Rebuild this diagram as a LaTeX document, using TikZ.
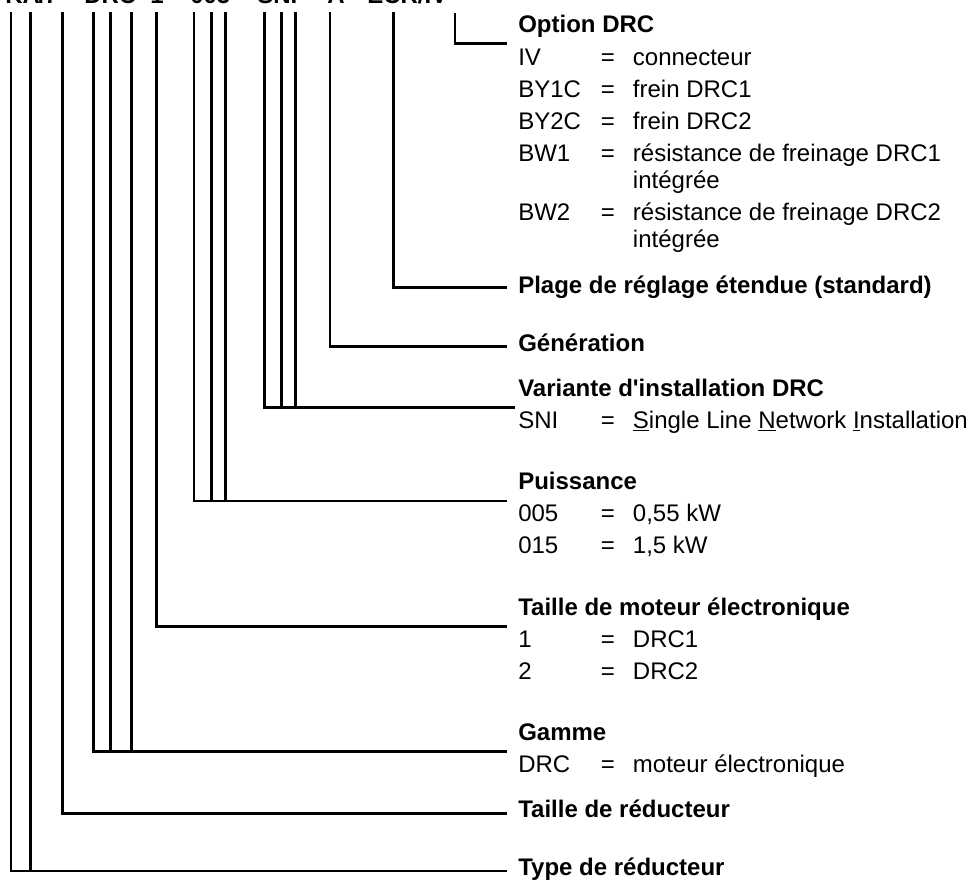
\documentclass[tikz,border=0pt]{standalone}
\usepackage{fontspec}
\setmainfont{Liberation Sans}[Ligatures=TeXOff]
\newcommand{\entryrow}[2]{\makebox[62pt][l]{#1}\makebox[24pt][l]{=}#2}
\begin{document}
\begin{tikzpicture}[x=0.75pt,y=-0.75pt,
  conn/.style={line width=2.1pt},
  lbl/.style={anchor=base west,inner sep=0pt,font=\fontsize{18pt}{22pt}\selectfont},
  hd/.style={anchor=base west,inner sep=0pt,font=\fontsize{18pt}{22pt}\selectfont\bfseries}]
\useasboundingbox (0,0) rectangle (969,880);
\clip (0,0) rectangle (969,880);

% partially visible type code at the top
\node[hd] (c1) at (5,3.5) {KA};
\node[hd] (c2) at (31,3.5) {47};
\node[hd] (c3) at (84,3.5) {DRC};
\node[hd] (c4) at (150,3.5) {1};
\node[hd] (c5) at (190,3.5) {005};
\node[hd] (c6) at (257,3.5) {SNI};
\node[hd] (c7) at (327,3.5) {A};
\node[hd] (c8) at (367,3.5) {ECR/IV};

% labels
\node[hd]  (hOpt) at (518,33) {Option DRC};
\node[lbl] (rIV)  at (518,66) {\entryrow{IV}{connecteur}};
\node[lbl] (rBY1) at (518,97.7) {\entryrow{BY1C}{frein DRC1}};
\node[lbl] (rBY2) at (518,129.3) {\entryrow{BY2C}{frein DRC2}};
\node[lbl] (rBW1) at (518,161.7) {\entryrow{BW1}{résistance de freinage DRC1}};
\node[lbl] (rBW1b) at (632.7,188.3) {intégrée};
\node[lbl] (rBW2) at (518,221) {\entryrow{BW2}{résistance de freinage DRC2}};
\node[lbl] (rBW2b) at (632.7,247.3) {intégrée};

\node[hd]  (hPl)  at (518,293.3) {Plage de réglage étendue (standard)};
\node[hd]  (hGen) at (518,351.7) {Génération};
\node[hd]  (hVar) at (518,396) {Variante d'installation DRC};
\node[lbl] (rSNI) at (518,428.3) {\entryrow{SNI}{\underline{S}ingle Line \underline{N}etwork \underline{I}nstallation}};
\node[hd]  (hPui) at (518,489.3) {Puissance};
\node[lbl] (r005) at (518,521.7) {\entryrow{005}{0,55 kW}};
\node[lbl] (r015) at (518,553.3) {\entryrow{015}{1,5 kW}};
\node[hd]  (hTm)  at (518,615) {Taille de moteur électronique};
\node[lbl] (r1)   at (518,647.3) {\entryrow{1}{DRC1}};
\node[lbl] (r2)   at (518,679.3) {\entryrow{2}{DRC2}};
\node[hd]  (hGa)  at (518,740.7) {Gamme};
\node[lbl] (rDRC) at (518,772.7) {\entryrow{DRC}{moteur électronique}};
\node[hd]  (hTr)  at (518,817.7) {Taille de réducteur};
\node[hd]  (hTy)  at (518,875) {Type de réducteur};

% top ends of the leader lines
\foreach \n/\x in {a/11,b/30.3,c/62.3,d/93.3,e/110.3,f/131.3,g/156.3,h/194,i/211.3,j/225.3,k/264.3,l/281.7,m/295.3,n/330,o/393.3}
  \coordinate (t\n) at (\x,12.5);
\coordinate (tp) at (455,13);

% right ends of the leader lines
\coordinate (eTy)  at (507,871);
\coordinate (eTr)  at (507,813.3);
\coordinate (eGa)  at (507,751.5);
\coordinate (eTm)  at (507,626.2);
\coordinate (ePui) at (507,501);
\coordinate (eVar) at (515,407.3);
\coordinate (eGen) at (507,346.7);
\coordinate (ePl)  at (507,287.3);
\coordinate (eOpt) at (507,43.3);

\draw[conn] (ta) |- (eTy);
\draw[conn] (tb) -- (tb |- eTy);
\draw[conn] (tc) |- (eTr);
\draw[conn] (td) |- (eGa);
\draw[conn] (te) -- (te |- eGa);
\draw[conn] (tf) -- (tf |- eGa);
\draw[conn] (tg) |- (eTm);
\draw[conn] (th) |- (ePui);
\draw[conn] (ti) -- (ti |- ePui);
\draw[conn] (tj) -- (tj |- ePui);
\draw[conn] (tk) |- (eVar);
\draw[conn] (tl) -- (tl |- eVar);
\draw[conn] (tm) -- (tm |- eVar);
\draw[conn] (tn) |- (eGen);
\draw[conn] (to) |- (ePl);
\draw[conn] (tp) |- (eOpt);
\end{tikzpicture}
\end{document}
